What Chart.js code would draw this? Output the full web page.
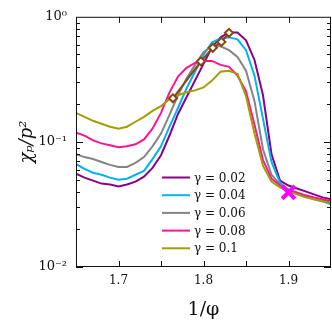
<!DOCTYPE html>
<html>
<head>
<meta charset="utf-8">
<script src="https://cdn.jsdelivr.net/npm/chart.js@4.4.1/dist/chart.umd.min.js"></script>
<style>
  html, body { margin: 0; padding: 0; background: #fff; }
  #wrap { width: 332px; height: 321px; }
</style>
</head>
<body>
<div id="wrap"><canvas id="chi" width="332" height="321"></canvas></div>
<script>
// ---- data ----
const xs = [1.65, 1.66, 1.67, 1.68, 1.69, 1.70, 1.71, 1.72, 1.73, 1.74, 1.75, 1.76, 1.77, 1.78, 1.79, 1.80,
            1.81, 1.82, 1.83, 1.84, 1.85, 1.86, 1.87, 1.88, 1.89, 1.90, 1.91, 1.92, 1.93, 1.94, 1.95];

const g002 = [0.0557, 0.0518, 0.0490, 0.0464, 0.0456, 0.0440, 0.0456, 0.0481, 0.0527, 0.0620, 0.0783,
              0.1125, 0.1673, 0.2275, 0.3092, 0.4203, 0.5714, 0.6845, 0.7492, 0.7492, 0.6484, 0.4519,
              0.2358, 0.0798, 0.0490, 0.0448, 0.0424, 0.0402, 0.0381, 0.0360, 0.0348];
const g004 = [0.0666, 0.0609, 0.0567, 0.0546, 0.0518, 0.0499, 0.0508, 0.0546, 0.0587, 0.0729, 0.0922,
              0.1323, 0.1865, 0.2676, 0.3639, 0.4945, 0.6254, 0.6722, 0.6845, 0.6602, 0.5412, 0.3384,
              0.1529, 0.0691, 0.0472, 0.0417, 0.0388, 0.0367, 0.0348, 0.0335, 0.0317];
const g006 = [0.0798, 0.0756, 0.0729, 0.0691, 0.0655, 0.0631, 0.0631, 0.0679, 0.0756, 0.0922, 0.1166,
              0.1643, 0.2358, 0.3206, 0.4128, 0.5220, 0.5818, 0.5818, 0.5412, 0.4770, 0.3705, 0.2116,
              0.0874, 0.0546, 0.0456, 0.0409, 0.0388, 0.0367, 0.0354, 0.0341, 0.0329];
const g008 = [0.1187, 0.1124, 0.1028, 0.0973, 0.0939, 0.0906, 0.0922, 0.0956, 0.1046, 0.1276, 0.1704,
              0.2490, 0.3324, 0.3910, 0.4280, 0.4438, 0.4438, 0.4128, 0.3982, 0.3384, 0.2535, 0.1372,
              0.0716, 0.0508, 0.0448, 0.0409, 0.0395, 0.0374, 0.0360, 0.0348, 0.0335];
const g010 = [0.1704, 0.1585, 0.1475, 0.1397, 0.1323, 0.1276, 0.1323, 0.1449, 0.1585, 0.1767, 0.1933,
              0.2194, 0.2358, 0.2490, 0.2581, 0.2725, 0.3092, 0.3639, 0.3705, 0.3509, 0.2316, 0.1166,
              0.0643, 0.0481, 0.0432, 0.0402, 0.0381, 0.0360, 0.0348, 0.0335, 0.0323];

const gammaLabels = ['γ = 0.02', 'γ = 0.04', 'γ = 0.06', 'γ = 0.08', 'γ = 0.1'];
const seriesColors = ['#8b008b', '#00b4ef', '#858585', '#ff1493', '#a0a000'];

// peak markers (brown diamonds) and the crossing point
const peakX = [1.764, 1.797, 1.811, 1.821, 1.830];
const peakY = [0.223, 0.440, 0.565, 0.630, 0.745];
const crossX = [1.90];
const crossY = [0.0395];

const xTickLabels = [1.7, 1.8, 1.9];
const xTickMarks = [1.7, 1.75, 1.8, 1.85, 1.9];
const yTickLabels = [0.01, 0.1, 1];
const yTickText = { 0.01: '10⁻²', 0.1: '10⁻¹', 1: '10⁰' };

const serif = '"DejaVu Serif", "Liberation Serif", serif';

const allSeries = [g002, g004, g006, g008, g010];

const datasets = allSeries.map((vals, i) => ({
    label: gammaLabels[i],
    data: xs.map((x, j) => ({ x: x, y: vals[j] })),
    borderColor: seriesColors[i],
    borderWidth: 2,
    pointRadius: 0,
    fill: false,
    tension: 0,
    order: 10 - i
}));

datasets.push({
    label: 'peaks',
    data: peakX.map((x, j) => ({ x: x, y: peakY[j] })),
    borderColor: '#8b4513',
    borderWidth: 2,
    pointStyle: 'rectRot',
    pointRadius: 4,
    pointBorderWidth: 2,
    pointBackgroundColor: '#ffffff',
    pointBorderColor: '#8b4513',
    tension: 0,
    order: 1
});

datasets.push({
    label: 'cross',
    data: crossX.map((x, j) => ({ x: x, y: crossY[j] })),
    showLine: false,
    pointStyle: 'crossRot',
    pointRadius: 9,
    pointBorderWidth: 4,
    pointBorderColor: '#ff00ff',
    borderColor: '#ff00ff',
    order: 0
});

// frame, inward ticks on all four sides, legend inside the plot
const framePlugin = {
    id: 'frame',
    afterDraw(chart) {
        const ctx = chart.ctx;
        const a = chart.chartArea;
        const xS = chart.scales.x;
        const yS = chart.scales.y;
        ctx.save();
        ctx.strokeStyle = '#111';
        ctx.lineWidth = 1;
        ctx.strokeRect(a.left + 0.5, a.top + 0.5, a.right - a.left - 1, a.bottom - a.top - 1);

        ctx.beginPath();
        xTickMarks.forEach(v => {
            const px = Math.round(xS.getPixelForValue(v)) + 0.5;
            ctx.moveTo(px, a.bottom); ctx.lineTo(px, a.bottom - 6);
            ctx.moveTo(px, a.top); ctx.lineTo(px, a.top + 6);
        });
        [0.01, 0.1].forEach(dec => {
            for (let m = 1; m < 10; m++) {
                const v = dec * m;
                const py = Math.round(yS.getPixelForValue(v)) + 0.5;
                const len = m === 1 ? 7 : 4;
                ctx.moveTo(a.left, py); ctx.lineTo(a.left + len, py);
                ctx.moveTo(a.right, py); ctx.lineTo(a.right - len, py);
            }
        });
        ctx.stroke();

        // legend
        const lx = 162, ly = 177.5, step = 17.7;
        ctx.font = '12px ' + serif;
        ctx.textBaseline = 'middle';
        ctx.textAlign = 'left';
        gammaLabels.forEach((lab, i) => {
            const y = ly + i * step;
            ctx.strokeStyle = seriesColors[i];
            ctx.lineWidth = 2;
            ctx.beginPath();
            ctx.moveTo(lx, y); ctx.lineTo(lx + 28, y);
            ctx.stroke();
            ctx.fillStyle = '#111';
            ctx.fillText(lab, lx + 32, y + 1);
        });
        ctx.restore();
    }
};

new Chart(document.getElementById('chi'), {
    type: 'line',
    data: { datasets: datasets },
    options: {
        responsive: false,
        animation: false,
        layout: { autoPadding: false, padding: { top: 12, right: 1, left: 0, bottom: 0 } },
        plugins: { legend: { display: false }, tooltip: { enabled: false } },
        scales: {
            x: {
                type: 'linear',
                min: 1.65,
                max: 1.95,
                grid: { display: false, drawTicks: false },
                border: { display: false },
                afterBuildTicks: s => { s.ticks = xTickLabels.map(v => ({ value: v })); },
                afterFit: s => { s.height = 54; },
                ticks: {
                    padding: 7,
                    color: '#111',
                    font: { family: serif, size: 12 },
                    callback: v => v.toFixed(1)
                },
                title: {
                    display: true,
                    text: '1/φ',
                    color: '#111',
                    font: { family: serif, size: 19 },
                    padding: { top: 9, bottom: 0 }
                }
            },
            y: {
                type: 'logarithmic',
                min: 0.01,
                max: 1,
                grid: { display: false, drawTicks: false },
                border: { display: false },
                afterBuildTicks: s => { s.ticks = yTickLabels.map(v => ({ value: v })); },
                afterFit: s => { s.width = 76; },
                ticks: {
                    padding: 9,
                    color: '#111',
                    font: { family: serif, size: 13 },
                    callback: v => yTickText[v] || ''
                },
                title: {
                    display: true,
                    text: 'χₚ/p²',
                    color: '#111',
                    font: { family: serif, size: 18, style: 'italic' },
                    padding: { top: 17, bottom: 0 }
                }
            }
        }
    },
    plugins: [framePlugin]
});
</script>
</body>
</html>
